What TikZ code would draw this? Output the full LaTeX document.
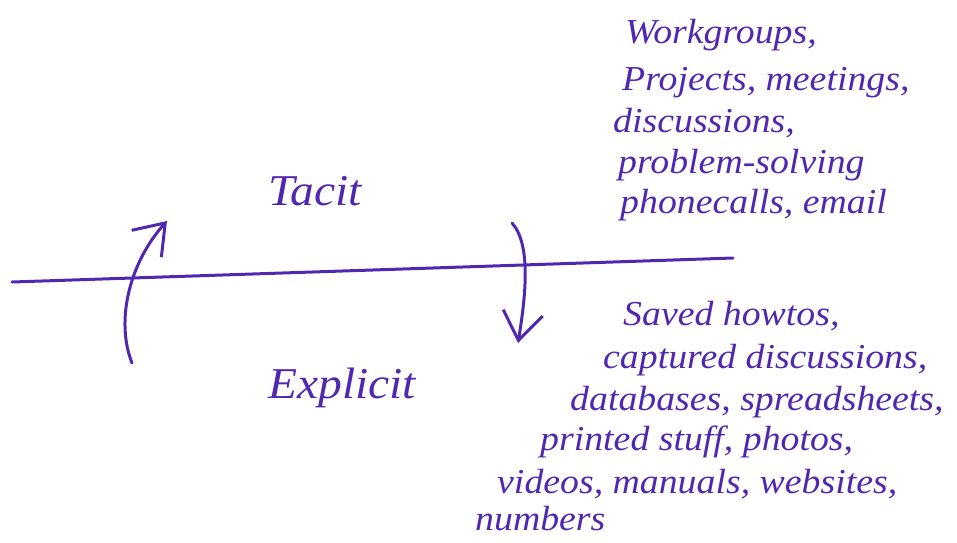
\documentclass[tikz,border=0pt]{standalone}
\usepackage{fontspec}
\setmainfont{Liberation Serif}
\newfontfamily\handfont{Liberation Serif}[FakeStretch=1.08]
\usetikzlibrary{arrows.meta}
\definecolor{ink}{RGB}{80, 40, 176}

\begin{document}
\begin{tikzpicture}[
   x=1pt, y=-1pt,
   hand/.style={anchor=base west, text=ink, inner sep=0,
                font=\fontsize{35}{40}\handfont\itshape},
   bighand/.style={anchor=base west, text=ink, inner sep=0,
                   font=\fontsize{44}{50}\handfont\itshape},
   stroke/.style={draw=ink, line width=3, line cap=round}
  ]

  \useasboundingbox (0, 0) rectangle (957, 542);

  % Divider
  \coordinate (L) at (12, 282);
  \coordinate (R) at (733, 258);
  \draw[stroke] (L) -- (R);

  % Labels
  \node (tacit) at (268, 205) [bighand] {Tacit};
  \node (explicit) at (268, 398) [bighand] {Explicit};

  % Tacit examples
  \foreach \n/\x/\y/\t in {1/625/43/{Workgroups,},
                           2/622/90/{Projects, meetings,},
                           3/613/132/{discussions,},
                           4/618/173/{problem-solving},
                           5/620/213/{phonecalls, email}} {
    \node (tac\n) at (\x, \y) [hand] {\t};
  }

  % Explicit examples
  \foreach \n/\x/\y/\t in {1/623/325/{Saved howtos,},
                           2/603/368/{captured discussions,},
                           3/570/410/{databases, spreadsheets,},
                           4/540/450/{printed stuff, photos,},
                           5/497/493/{videos, manuals, websites,},
                           6/475/530/{numbers}} {
    \node (exp\n) at (\x, \y) [hand] {\t};
  }

  % Conversion arrows
  \coordinate (upS) at (132, 363);
  \coordinate (upE) at (167, 221);
  \coordinate (downS) at (512, 223);
  \coordinate (downE) at (518, 343);

  \draw[stroke, -{Straight Barb[length=28pt, width=40pt]}]
    (upS) .. controls (115, 320) and (130, 262) .. (upE);
  \draw[stroke, -{Straight Barb[length=28pt, width=40pt]}]
    (downS) .. controls (532, 245) and (525, 300) .. (downE);

\end{tikzpicture}
\end{document}
